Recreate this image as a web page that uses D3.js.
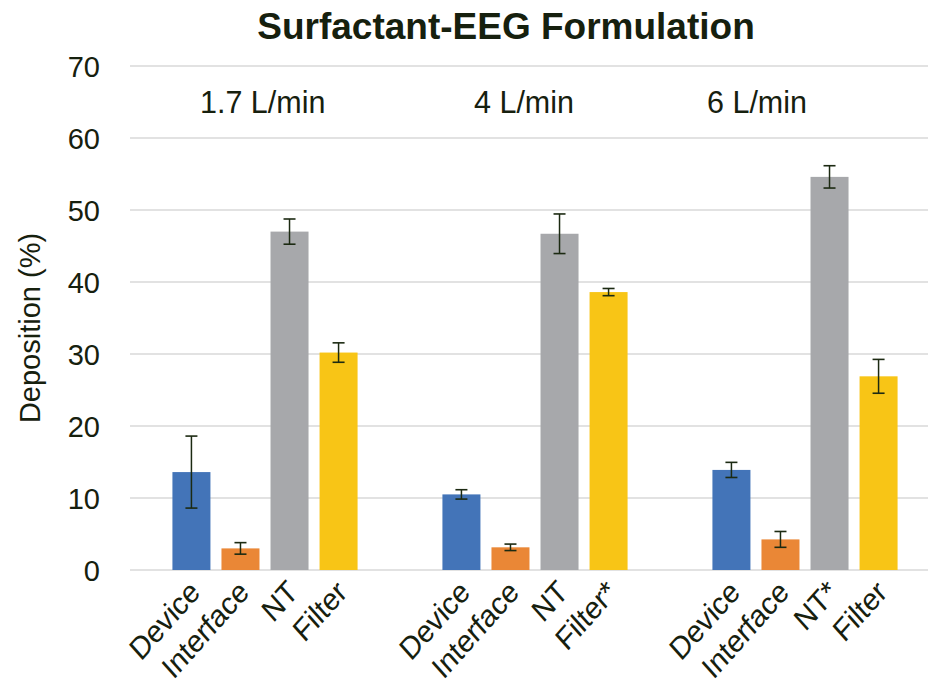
<!DOCTYPE html>
<html><head><meta charset="utf-8">
<script src="https://cdn.jsdelivr.net/npm/d3@7"></script>
<style>html,body{margin:0;padding:0;background:#fff;}svg{display:block;font-family:"Liberation Sans",Arial,sans-serif;}</style>
</head><body><div id="chart"></div>
<script>
const groups = ["1.7 L/min", "4 L/min", "6 L/min"];
const series = ["Device", "Interface", "NT", "Filter"];
const tickLabels = [
  ["Device", "Interface", "NT", "Filter"],
  ["Device", "Interface", "NT", "Filter*"],
  ["Device", "Interface", "NT*", "Filter"]
];
const means = [
  [13.6, 3.0, 47.0, 30.2],
  [10.5, 3.15, 46.7, 38.6],
  [13.9, 4.25, 54.6, 26.9]
];
const errors = [
  [5.0, 0.8, 1.75, 1.35],
  [0.65, 0.45, 2.75, 0.5],
  [1.05, 1.1, 1.55, 2.35]
];
const yTicks = [0, 10, 20, 30, 40, 50, 60, 70];
const colors = ["#4374B8", "#EA8736", "#A7A8AB", "#F8C516"];

const W = 928, H = 687;
const M = {left: 130, right: -12, top: 66, bottom: 117};
const textColor = "#16200e";
const FONT = '"Liberation Sans",Arial,sans-serif';

const svg = d3.select("#chart").append("svg").attr("width", W).attr("height", H);

const y = d3.scaleLinear().domain([0, 70]).range([H - M.bottom, M.top]);
const x0 = d3.scaleBand().domain(groups).range([M.left, W - M.right]).padding(0);
const x1 = d3.scaleBand().domain(series).range([0, x0.bandwidth()]).paddingInner(0.225).paddingOuter(0.865);

// gridlines
svg.append("g").selectAll("line").data(yTicks).join("line")
  .attr("x1", M.left).attr("x2", W - M.right)
  .attr("y1", d => y(d)).attr("y2", d => y(d))
  .attr("stroke", "#d9d9d9").attr("stroke-width", 1.6);

// y axis labels
const yAxis = d3.axisLeft(y).tickValues(yTicks).tickSize(0).tickPadding(0);
const gy = svg.append("g").attr("transform", `translate(${M.left - 30},0)`).call(yAxis);
gy.select(".domain").remove();
gy.selectAll("text").attr("font-size", 29).attr("fill", textColor).attr("dy", "0.36em")
  .attr("font-family", FONT);

// bars
const gg = svg.append("g").selectAll("g").data(groups).join("g")
  .attr("transform", d => `translate(${x0(d)},0)`);

gg.selectAll("rect").data((g, gi) => series.map((s, si) => ({s, si, v: means[gi][si]})))
  .join("rect")
  .attr("x", d => x1(d.s)).attr("width", x1.bandwidth())
  .attr("y", d => y(d.v)).attr("height", d => y(0) - y(d.v))
  .attr("fill", d => colors[d.si]);

// error bars
const cap = 6;
const eb = gg.selectAll("g.err").data((g, gi) => series.map((s, si) => ({s, v: means[gi][si], e: errors[gi][si]})))
  .join("g").attr("class", "err")
  .attr("transform", d => `translate(${x1(d.s) + x1.bandwidth() / 2},0)`);
eb.append("line").attr("y1", d => y(d.v + d.e)).attr("y2", d => y(d.v - d.e))
  .attr("stroke", "#1c2a12").attr("stroke-width", 1.5);
eb.append("line").attr("x1", -cap).attr("x2", cap).attr("y1", d => y(d.v + d.e)).attr("y2", d => y(d.v + d.e))
  .attr("stroke", "#1c2a12").attr("stroke-width", 1.6);
eb.append("line").attr("x1", -cap).attr("x2", cap).attr("y1", d => y(d.v - d.e)).attr("y2", d => y(d.v - d.e))
  .attr("stroke", "#1c2a12").attr("stroke-width", 1.6);

// category labels, rotated
gg.selectAll("text.cat").data((g, gi) => series.map((s, si) => ({s, label: tickLabels[gi][si]})))
  .join("text").attr("class", "cat")
  .attr("transform", d => `translate(${x1(d.s) + x1.bandwidth() / 2 + 10},${y(0) + 24}) scale(1,1.12) rotate(-45)`)
  .attr("text-anchor", "end")
  .attr("font-size", 28).attr("fill", textColor)
  .text(d => d.label);

// group labels (text boxes)
const groupLabelOffset = [-65, -61, -98];
svg.append("g").selectAll("text").data(groups).join("text")
  .attr("x", (d, i) => x0(d) + x0.bandwidth() / 2 + groupLabelOffset[i])
  .attr("y", 113)
  .attr("font-size", 30.5).attr("fill", textColor)
  .text(d => d);

// title
svg.append("text").attr("x", 506).attr("y", 39).attr("text-anchor", "middle")
  .attr("font-size", 37).attr("font-weight", "bold").attr("fill", textColor)
  .text("Surfactant-EEG Formulation");

// y axis title
svg.append("text").attr("transform", `translate(40,${(y(0) + y(70)) / 2 + 10}) rotate(-90)`)
  .attr("text-anchor", "middle").attr("font-size", 29).attr("fill", textColor)
  .text("Deposition (%)");
</script></body></html>
